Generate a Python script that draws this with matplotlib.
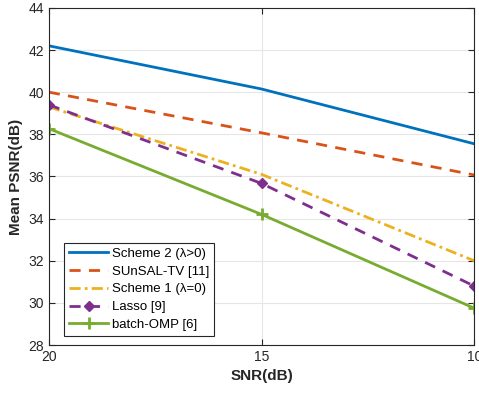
import matplotlib
matplotlib.use("Agg")
import matplotlib.pyplot as plt

snr = [20, 15, 10]
scheme2 = [42.2, 40.15, 37.55]
sunsal_tv = [40.0, 38.07, 36.07]
scheme1 = [39.3, 36.1, 32.0]
lasso = [39.4, 35.67, 30.8]
batch_omp = [38.27, 34.2, 29.75]
labels = ["Scheme 2 (λ>0)", "SUnSAL-TV [11]", "Scheme 1 (λ=0)", "Lasso [9]", "batch-OMP [6]"]
yticks = [28, 30, 32, 34, 36, 38, 40, 42, 44]
xticks = [20, 15, 10]

plt.rcParams['font.family'] = ['Liberation Sans', 'DejaVu Sans']

fig = plt.figure(figsize=(4.79, 3.93), dpi=100)
ax = fig.add_axes([0.102, 0.122, 0.888, 0.858])

lw = 2.0
ax.plot(snr, scheme2, '-', color='#0072BD', lw=lw, label=labels[0])
ax.plot(snr, sunsal_tv, '--', color='#D95319', lw=lw, label=labels[1], dashes=(4, 3))
ax.plot(snr, scheme1, '-.', color='#EDB120', lw=lw, label=labels[2], dashes=(4, 1.5, 1, 1.5))
ax.plot(snr, lasso, '--', color='#7E2F8E', lw=lw, marker='D', ms=5.5, label=labels[3], dashes=(4, 3))
ax.plot(snr, batch_omp, '-', color='#77AC30', lw=lw, marker='+', ms=8, mew=2, label=labels[4])

ax.set_xlim(20, 10)
ax.set_ylim(28, 44)
ax.set_xticks(xticks)
ax.set_yticks(yticks)
ax.grid(True, color='#e6e6e6', lw=0.8)
ax.set_axisbelow(True)
ax.tick_params(direction='in', top=True, right=True, labelsize=10, colors='#262626', length=4)
for s in ax.spines.values():
    s.set_color('#262626')
    s.set_linewidth(0.8)
ax.set_xlabel('SNR(dB)', fontsize=11, fontweight='bold', color='#262626')
ax.set_ylabel('Mean PSNR(dB)', fontsize=11, fontweight='bold', color='#262626')

leg = ax.legend(loc='lower left', bbox_to_anchor=(0.03, 0.02), fontsize=9.5, fancybox=False,
                framealpha=1, edgecolor='#262626', borderpad=0.35, labelspacing=0.42,
                handlelength=3.0, handletextpad=0.25, borderaxespad=0.2)
leg.get_frame().set_linewidth(0.8)

fig.savefig('out.png', dpi=100)
